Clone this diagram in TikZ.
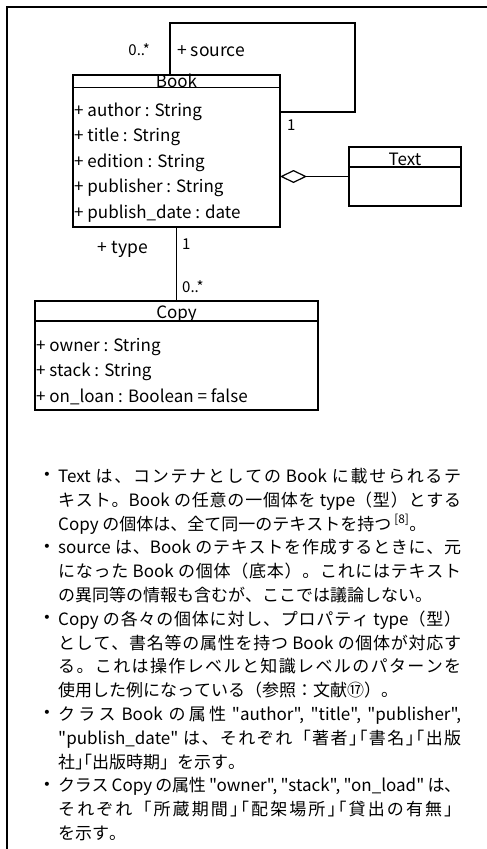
\documentclass[tikz,border=0pt]{standalone}
\usepackage{fontspec}
\usetikzlibrary{arrows.meta,calc}
\newfontfamily\jp{Noto Sans CJK JP}
\newfontfamily\jph{Noto Sans CJK JP}[RawFeature=+halt]
\newfontfamily\dv{DejaVu Sans}
% inter-character glue for Japanese justification
\chardef\jcls=7
\newcount\jcnt
\newcommand\setjcls[2]{\jcnt=#1\relax\loop\XeTeXcharclass\jcnt=\jcls\relax\advance\jcnt by 1\relax\ifnum\jcnt<#2\relax\repeat}
\setjcls{"3000}{"3100}
\setjcls{"4E00}{"A000}
\setjcls{"FF00}{"FF61}
\setjcls{"2460}{"2500}
\XeTeXinterchartokenstate=1
\XeTeXinterchartoks\jcls\jcls={\hskip 0pt plus 3pt minus 0.8pt\relax}
\newcommand\jpline[3]{\node[jtxt] (#1) at (58,{482.4+23.8*#2}) {#3};}
\newcommand\jpdot[2]{\node[dot] (#1) at (47,{476+23.8*#2}) {•};}
\newcommand\J[1]{\makebox[403pt][s]{#1}}
\newcommand\jg{\hskip 0pt plus 3pt minus 0.8pt\relax}
\newcommand\pr{\jg{\jph 」\jg「}\jg}
\begin{document}
\begin{tikzpicture}[x=1pt,y=-1pt,
  box/.style={draw,line width=1.2pt,inner sep=0pt,outer sep=0pt,anchor=north west},
  hdr/.style={font=\jp\fontsize{17}{17}\selectfont,inner sep=0pt,anchor=base},
  attr/.style={font=\jp\fontsize{17}{17}\selectfont,inner sep=0pt,anchor=base west},
  role/.style={font=\jp\fontsize{17.5}{17.5}\selectfont,inner sep=0pt},
  mult/.style={font=\jp\fontsize{15}{15}\selectfont,inner sep=0pt},
  jtxt/.style={font=\jp\fontsize{17}{17}\selectfont,inner sep=0pt,anchor=base west},
  dot/.style={font=\dv\fontsize{14}{14}\selectfont,inner sep=0pt,anchor=center},
  conn/.style={line width=1.2pt},
]
\useasboundingbox (0,0) rectangle (487,849);
\draw[line width=1.3pt] (7,849) -- (7,7) -- (487,7);

% Book
\node[box,minimum width=207pt,minimum height=152pt] (book) at (73,75) {};
\draw[conn] ($(book.north west)+(0,12.5)$) -- ($(book.north east)+(0,12.5)$);
\node[hdr] (bookh) at ($(book.north)+(0,12)$) {Book};
\node[attr] (ba1) at (74,116) {+ author : String};
\node[attr] (ba2) at (74,141.5) {+ title : String};
\node[attr] (ba3) at (74,167) {+ edition : String};
\node[attr] (ba4) at (74,192.5) {+ publisher : String};
\node[attr] (ba5) at (74,218) {+ publish\_date : date};

% Text
\node[box,minimum width=112pt,minimum height=59pt] (text) at (349,147) {};
\draw[conn] ($(text.north west)+(0,20)$) -- ($(text.north east)+(0,20)$);
\node[hdr] (texth) at ($(text.north)+(0,18.5)$) {Text};

% Copy
\node[box,minimum width=283pt,minimum height=109pt] (copy) at (35,301) {};
\draw[conn] ($(copy.north west)+(0,20)$) -- ($(copy.north east)+(0,20)$);
\node[hdr] (copyh) at ($(copy.north)+(0,17)$) {Copy};
\node[attr] (ca1) at (36,351) {+ owner : String};
\node[attr] (ca2) at (36,376.5) {+ stack : String};
\node[attr] (ca3) at (36,402) {+ on\_loan : Boolean = false};

% connectors
\coordinate (lp) at (355,23);
\draw[conn] ($(book.north)+(-6.5,0)$) |- (lp) |- ($(book.east)+(0,-39)$);
\draw[conn] (book.south) -- (copy.north);
\draw[conn,{Diamond[open,length=27pt,width=13pt,line width=1.2pt]}-] (book.east |- text.west) -- (text.west);

% labels
\node[mult,anchor=base east] (m1) at (150,55) {0..*};
\node[role,anchor=base west] (r1) at (177,56) {+ source};
\node[mult,anchor=base west] (m2) at (287,130) {1};
\node[role,anchor=base east] (r2) at (148,253.5) {+ type};
\node[mult,anchor=base west] (m3) at (182,249) {1};
\node[mult,anchor=base west] (m4) at (182,292) {0..*};

% notes
\jpdot{d1}{0}
\jpdot{d2}{3}
\jpdot{d3}{6}
\jpdot{d4}{10}
\jpdot{d5}{13}
\jpline{t1}{0}{\J{Text は、コンテナとしての Book に載せられるテ}}
\jpline{t2}{1}{\J{キスト。Book の任意の一個体を type（型）とする}}
\jpline{t3}{2}{Copy の個体は、全て同一のテキストを持つ\,\textsuperscript{[8]}。}
\jpline{t4}{3}{\J{source は、Book のテキストを作成するときに、元}}
\jpline{t5}{4}{\J{になった Book の個体（底本）。これにはテキスト}}
\jpline{t6}{5}{の異同等の情報も含むが、ここでは議論しない。}
\jpline{t7}{6}{\J{Copy の各々の個体に対し、プロパティ type（型）}}
\jpline{t8}{7}{\J{として、書名等の属性を持つ Book の個体が対応す}}
\jpline{t9}{8}{\J{る。これは操作レベルと知識レベルのパターンを}}
\jpline{t10}{9}{使用した例になっている（参照：文献⑰）。}
\jpline{t11}{10}{\J{クラス Book の属性 "author", "title", "publisher",}}
\jpline{t12}{11}{\J{"publish\_date" は、それぞれ「著者\pr 書名\pr 出版}}
\jpline{t13}{12}{社\pr 出版時期」を示す。}
\jpline{t14}{13}{\J{クラス Copy の属性 "owner", "stack", "on\_load" は、}}
\jpline{t15}{14}{\J{それぞれ「所蔵期間\pr 配架場所\pr 貸出の有無」}}
\jpline{t16}{15}{を示す。}
\end{tikzpicture}
\end{document}
